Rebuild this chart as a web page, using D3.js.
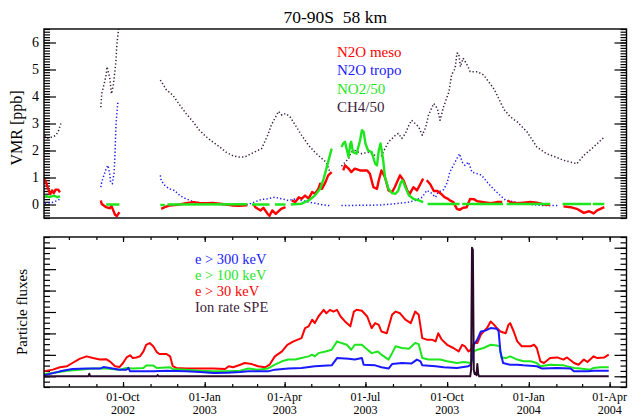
<!DOCTYPE html>
<html>
<head>
<meta charset="utf-8">
<script src="https://cdn.jsdelivr.net/npm/d3@7"></script>
<style>
    body { margin: 0; background: #fff; }
    text { font-family: 'Liberation Serif', 'Times New Roman', serif; }
</style>
</head>
<body>
<div id="chart"></div>
<script>
// ---- values ----
var title = '70-90S  58 km';
var xDomain = ['2002-07-04', '2004-04-20'];
var quarterTicks = ['2002-10-01', '2003-01-01', '2003-04-01', '2003-07-01', '2003-10-01', '2004-01-01', '2004-04-01'];
var vmrTicks = [0, 1, 2, 3, 4, 5, 6];
var fluxTicks = [0, 1, 2, 3, 4, 5, 6];
var topLegend = ['N2O meso', 'N2O tropo', 'NO2/50', 'CH4/50'];
var botLegend = ['e > 300 keV', 'e > 100 keV', 'e > 30 keV', 'Ion rate SPE'];

// top panel [ppb], null marks a data gap
var n2oMeso = [
    ['2002-07-05', 0.93], ['2002-07-07', 0.75], ['2002-07-09', 0.55], ['2002-07-11', 0.38], ['2002-07-13', 0.52], ['2002-07-15', 0.42], ['2002-07-17', 0.55], ['2002-07-20', 0.55], ['2002-07-22', 0.45], ['2002-07-23', null],
    ['2002-09-06', 0.15], ['2002-09-07', 0.02], ['2002-09-12', -0.1], ['2002-09-16', -0.14], ['2002-09-18', -0.05], ['2002-09-20', -0.22], ['2002-09-22', -0.38], ['2002-09-24', -0.43], ['2002-09-27', -0.28], ['2002-09-28', null],
    ['2002-11-13', -0.16], ['2002-11-17', -0.1], ['2002-11-22', -0.04], ['2002-12-04', 0.0], ['2002-12-11', 0.05], ['2002-12-19', 0.09], ['2002-12-26', 0.06], ['2003-01-03', 0.05], ['2003-01-10', 0.06], ['2003-01-18', 0.03], ['2003-01-25', 0.0], ['2003-02-02', -0.04], ['2003-02-08', -0.05], ['2003-02-18', -0.03], ['2003-02-20', null],
    ['2003-02-25', 0.0], ['2003-02-27', -0.1], ['2003-03-05', -0.22], ['2003-03-08', -0.12], ['2003-03-13', -0.35], ['2003-03-15', -0.42], ['2003-03-18', -0.22], ['2003-03-22', -0.35], ['2003-03-28', -0.16], ['2003-04-02', -0.1], ['2003-04-04', null],
    ['2003-04-09', 0.15], ['2003-04-13', 0.09], ['2003-04-17', 0.27], ['2003-04-20', 0.21], ['2003-04-24', 0.33], ['2003-04-28', 0.22], ['2003-05-02', 0.46], ['2003-05-05', 0.4], ['2003-05-09', 0.58], ['2003-05-11', 0.77], ['2003-05-13', 0.58], ['2003-05-17', 0.83], ['2003-05-20', 1.08], ['2003-05-24', 1.2], ['2003-05-26', null],
    ['2003-06-06', 1.26], ['2003-06-08', 1.45], ['2003-06-12', 1.33], ['2003-06-15', 1.2], ['2003-06-19', 1.33], ['2003-06-25', 1.26], ['2003-07-03', 1.26], ['2003-07-06', 1.14], ['2003-07-10', 0.64], ['2003-07-14', 0.58], ['2003-07-16', 0.89], ['2003-07-19', 1.26], ['2003-07-23', 1.01], ['2003-07-27', 0.52], ['2003-07-31', 0.46], ['2003-08-03', 0.64], ['2003-08-09', 1.08], ['2003-08-13', 0.89], ['2003-08-17', 0.52], ['2003-08-20', 0.4], ['2003-08-24', 0.64], ['2003-08-28', 0.52], ['2003-09-01', 0.77], ['2003-09-04', 0.96], ['2003-09-06', null],
    ['2003-09-08', 0.9], ['2003-09-12', 0.75], ['2003-09-16', 0.5], ['2003-09-20', 0.5], ['2003-09-24', 0.4], ['2003-09-28', 0.27], ['2003-10-02', 0.21], ['2003-10-04', 0.15], ['2003-10-08', 0.09], ['2003-10-12', -0.16], ['2003-10-15', -0.2], ['2003-10-19', -0.12], ['2003-10-23', -0.1], ['2003-10-27', 0.21], ['2003-10-31', 0.2], ['2003-11-04', 0.12], ['2003-11-11', 0.09], ['2003-11-19', 0.05], ['2003-11-26', 0.09], ['2003-12-02', 0.09], ['2003-12-05', null],
    ['2003-12-08', 0.15], ['2003-12-11', 0.09], ['2003-12-19', 0.05], ['2003-12-26', 0.07], ['2004-01-03', 0.09], ['2004-01-10', 0.07], ['2004-01-18', 0.0], ['2004-01-25', -0.02], ['2004-02-01', null],
    ['2004-02-09', -0.07], ['2004-02-17', -0.1], ['2004-02-24', -0.16], ['2004-03-03', -0.31], ['2004-03-09', -0.25], ['2004-03-14', -0.33], ['2004-03-18', -0.22], ['2004-03-26', -0.1]
];

var n2oTropo = [
    ['2002-07-05', 0.05], ['2002-07-10', 0.06], ['2002-07-15', 0.09], ['2002-07-19', 0.15], ['2002-07-22', 0.2], ['2002-07-23', null],
    ['2002-09-06', 0.64], ['2002-09-07', 0.83], ['2002-09-12', 1.33], ['2002-09-14', 1.45], ['2002-09-16', 1.14], ['2002-09-17', 0.83], ['2002-09-19', 0.77], ['2002-09-21', 1.2], ['2002-09-22', 1.94], ['2002-09-23', 2.94], ['2002-09-25', 3.74], ['2002-09-26', 3.8], ['2002-09-28', null],
    ['2002-11-12', 1.08], ['2002-11-13', 0.89], ['2002-11-17', 0.71], ['2002-11-22', 0.58], ['2002-11-28', 0.52], ['2002-12-04', 0.33], ['2002-12-11', 0.21], ['2002-12-19', 0.11], ['2002-12-26', 0.06], ['2003-01-03', 0.03], ['2003-01-18', 0.0], ['2003-02-02', -0.04], ['2003-02-10', -0.03], ['2003-02-19', 0.0], ['2003-02-26', 0.09], ['2003-03-06', 0.19], ['2003-03-13', 0.21], ['2003-03-21', 0.27], ['2003-03-29', 0.21], ['2003-04-05', 0.15], ['2003-04-13', 0.21], ['2003-04-20', 0.15], ['2003-04-28', 0.09], ['2003-05-05', 0.05], ['2003-05-13', -0.01], ['2003-05-22', -0.04], ['2003-05-26', null],
    ['2003-06-04', -0.04], ['2003-06-25', -0.03], ['2003-07-17', -0.02], ['2003-08-04', 0.03], ['2003-08-19', 0.09], ['2003-08-26', 0.15], ['2003-09-03', 0.27], ['2003-09-08', 0.52], ['2003-09-12', 0.46], ['2003-09-18', 0.27], ['2003-09-21', 0.46], ['2003-09-27', 0.55], ['2003-10-01', 0.8], ['2003-10-04', 1.2], ['2003-10-08', 1.45], ['2003-10-12', 1.7], ['2003-10-15', 1.88], ['2003-10-18', 1.57], ['2003-10-21', 1.45], ['2003-10-25', 1.57], ['2003-10-29', 1.2], ['2003-11-04', 1.14], ['2003-11-09', 1.08], ['2003-11-15', 0.83], ['2003-11-22', 0.58], ['2003-11-30', 0.33], ['2003-12-06', 0.15], ['2003-12-11', 0.12], ['2003-12-23', 0.05], ['2004-01-03', 0.0], ['2004-01-18', -0.04], ['2004-02-02', -0.04]
];

var no2 = [
    ['2002-07-05', 0.33], ['2002-07-10', 0.27], ['2002-07-15', 0.33], ['2002-07-19', 0.27], ['2002-07-22', 0.3], ['2002-07-23', null],
    ['2002-09-12', 0.0], ['2002-09-27', 0.0], ['2002-09-28', null],
    ['2002-11-12', -0.02], ['2002-11-17', -0.02], ['2002-11-18', null],
    ['2002-11-20', 0.0], ['2003-02-18', 0.01], ['2003-02-20', null],
    ['2003-02-23', 0.0], ['2003-03-15', 0.0], ['2003-03-18', null],
    ['2003-03-21', 0.0], ['2003-04-02', 0.0], ['2003-04-05', null],
    ['2003-04-08', 0.0], ['2003-04-20', 0.03], ['2003-04-28', 0.15], ['2003-05-05', 0.33], ['2003-05-11', 0.58], ['2003-05-15', 0.96], ['2003-05-18', 1.33], ['2003-05-21', 1.7], ['2003-05-24', 2.07], ['2003-05-26', null],
    ['2003-06-04', 2.13], ['2003-06-06', 2.26], ['2003-06-08', 2.32], ['2003-06-12', 1.76], ['2003-06-14', 2.26], ['2003-06-15', 2.32], ['2003-06-17', 1.94], ['2003-06-21', 1.88], ['2003-06-25', 2.38], ['2003-06-27', 2.75], ['2003-06-29', 2.69], ['2003-07-01', 2.26], ['2003-07-04', 2.0], ['2003-07-08', 1.94], ['2003-07-12', 1.51], ['2003-07-14', 1.45], ['2003-07-16', 2.0], ['2003-07-18', 2.26], ['2003-07-19', 2.07], ['2003-07-21', 1.64], ['2003-07-23', 1.01], ['2003-07-27', 0.58], ['2003-07-31', 0.42], ['2003-08-04', 0.4], ['2003-08-07', 0.52], ['2003-08-10', 0.83], ['2003-08-12', 0.89], ['2003-08-15', 0.64], ['2003-08-19', 0.33], ['2003-08-24', 0.21], ['2003-08-30', 0.15], ['2003-09-04', 0.09], ['2003-09-06', null],
    ['2003-09-09', 0.02], ['2003-10-15', 0.02], ['2003-10-17', null],
    ['2003-10-18', 0.02], ['2003-12-03', 0.02], ['2003-12-05', null],
    ['2003-12-07', 0.02], ['2004-01-25', 0.02], ['2004-02-01', null],
    ['2004-02-08', 0.02], ['2004-03-11', 0.02], ['2004-03-12', null],
    ['2004-03-13', 0.02], ['2004-03-26', 0.02]
];

var ch4 = [
    ['2002-07-05', 2.55], ['2002-07-08', 2.45], ['2002-07-13', 2.5], ['2002-07-17', 2.55], ['2002-07-20', 2.7], ['2002-07-23', 3.0], ['2002-07-24', null],
    ['2002-09-06', 3.6], ['2002-09-07', 4.1], ['2002-09-10', 4.5], ['2002-09-12', 4.8], ['2002-09-13', 5.1], ['2002-09-16', 4.7], ['2002-09-18', 4.1], ['2002-09-20', 4.4], ['2002-09-23', 5.3], ['2002-09-24', 5.9], ['2002-09-26', 6.5], ['2002-09-28', null],
    ['2002-11-12', 4.61], ['2002-11-19', 4.24], ['2002-11-26', 4.05], ['2002-12-04', 3.68], ['2002-12-11', 3.37], ['2002-12-19', 3.06], ['2002-12-26', 2.75], ['2003-01-03', 2.5], ['2003-01-10', 2.32], ['2003-01-18', 2.13], ['2003-01-25', 1.94], ['2003-02-02', 1.8], ['2003-02-08', 1.76], ['2003-02-15', 1.76], ['2003-02-26', 1.94], ['2003-03-06', 2.07], ['2003-03-13', 2.57], ['2003-03-17', 2.94], ['2003-03-21', 3.19], ['2003-03-25', 3.45], ['2003-03-29', 3.31], ['2003-04-02', 3.37], ['2003-04-07', 3.25], ['2003-04-13', 2.94], ['2003-04-20', 2.57], ['2003-04-28', 2.19], ['2003-05-05', 1.94], ['2003-05-11', 1.76], ['2003-05-15', 1.64], ['2003-05-18', 1.57], ['2003-05-22', 1.2], ['2003-05-26', null],
    ['2003-06-04', 1.42], ['2003-06-12', 1.7], ['2003-06-15', 1.94], ['2003-06-19', 2.0], ['2003-06-27', 1.88], ['2003-07-04', 1.94], ['2003-07-12', 1.82], ['2003-07-19', 1.8], ['2003-07-23', 2.07], ['2003-07-27', 2.32], ['2003-07-31', 2.44], ['2003-08-04', 2.57], ['2003-08-07', 2.63], ['2003-08-11', 2.45], ['2003-08-15', 2.63], ['2003-08-19', 2.94], ['2003-08-22', 3.12], ['2003-08-26', 3.0], ['2003-08-30', 2.87], ['2003-09-03', 2.57], ['2003-09-07', 2.87], ['2003-09-10', 3.31], ['2003-09-16', 3.74], ['2003-09-20', 3.55], ['2003-09-23', 3.12], ['2003-09-27', 3.62], ['2003-10-03', 4.17], ['2003-10-06', 4.8], ['2003-10-10', 5.04], ['2003-10-12', 5.6], ['2003-10-14', 5.6], ['2003-10-16', 5.1], ['2003-10-19', 5.42], ['2003-10-23', 5.2], ['2003-10-27', 4.92], ['2003-11-04', 4.92], ['2003-11-11', 4.8], ['2003-11-23', 4.27], ['2003-12-04', 3.52], ['2003-12-11', 3.25], ['2003-12-19', 3.06], ['2003-12-30', 2.69], ['2004-01-10', 2.13], ['2004-01-21', 1.88], ['2004-01-31', 1.76], ['2004-02-09', 1.64], ['2004-02-17', 1.57], ['2004-02-24', 1.51], ['2004-03-03', 1.82], ['2004-03-14', 2.13], ['2004-03-26', 2.5]
];

// bottom panel, particle fluxes (arbitrary units)
var e30 = [
    ['2002-07-04', 0.23], ['2002-07-14', 0.31], ['2002-07-22', 0.42], ['2002-07-30', 0.47], ['2002-08-05', 0.62], ['2002-08-13', 0.81], ['2002-08-21', 0.93], ['2002-08-28', 0.85], ['2002-09-05', 0.78], ['2002-09-12', 0.80], ['2002-09-16', 0.70], ['2002-09-22', 0.47], ['2002-09-27', 0.43], ['2002-10-01', 0.62], ['2002-10-05', 0.88], ['2002-10-09', 0.98], ['2002-10-12', 0.85], ['2002-10-16', 0.88], ['2002-10-20', 0.93], ['2002-10-24', 1.16], ['2002-10-27', 1.47], ['2002-10-31', 1.55], ['2002-11-04', 1.40], ['2002-11-08', 1.13], ['2002-11-11', 1.04], ['2002-11-19', 1.04], ['2002-11-23', 0.93], ['2002-11-26', 0.47], ['2002-11-30', 0.39], ['2002-12-11', 0.36], ['2002-12-27', 0.36], ['2003-01-11', 0.36], ['2003-01-24', 0.34], ['2003-01-28', 0.47], ['2003-02-02', 0.42], ['2003-02-10', 0.54], ['2003-02-15', 0.62], ['2003-02-23', 0.57], ['2003-03-02', 0.47], ['2003-03-10', 0.42], ['2003-03-15', 0.54], ['2003-03-21', 0.93], ['2003-03-29', 1.16], ['2003-04-04', 1.47], ['2003-04-11', 1.63], ['2003-04-20', 1.78], ['2003-04-24', 2.25], ['2003-04-28', 2.33], ['2003-05-02', 2.64], ['2003-05-05', 2.48], ['2003-05-09', 2.79], ['2003-05-15', 3.10], ['2003-05-18', 2.94], ['2003-05-22', 3.10], ['2003-05-26', 3.02], ['2003-05-30', 3.10], ['2003-06-03', 2.79], ['2003-06-08', 2.56], ['2003-06-14', 2.33], ['2003-06-18', 3.02], ['2003-06-21', 3.10], ['2003-06-27', 3.06], ['2003-07-03', 2.79], ['2003-07-08', 2.25], ['2003-07-12', 2.48], ['2003-07-16', 2.40], ['2003-07-19', 2.09], ['2003-07-25', 2.01], ['2003-07-31', 2.87], ['2003-08-04', 3.02], ['2003-08-09', 2.94], ['2003-08-15', 2.64], ['2003-08-21', 2.48], ['2003-08-26', 3.02], ['2003-08-30', 2.87], ['2003-09-03', 1.78], ['2003-09-08', 1.71], ['2003-09-14', 1.71], ['2003-09-18', 1.63], ['2003-09-21', 2.01], ['2003-09-25', 1.71], ['2003-10-01', 1.47], ['2003-10-08', 1.32], ['2003-10-14', 1.16], ['2003-10-18', 1.47], ['2003-10-21', 1.40], ['2003-10-25', 1.16], ['2003-10-28', 1.24], ['2003-10-31', 1.55], ['2003-11-04', 1.55], ['2003-11-08', 1.94], ['2003-11-11', 2.09], ['2003-11-15', 2.25], ['2003-11-19', 2.56], ['2003-11-23', 2.40], ['2003-11-26', 2.25], ['2003-11-30', 2.09], ['2003-12-06', 2.01], ['2003-12-09', 2.40], ['2003-12-11', 2.48], ['2003-12-15', 2.09], ['2003-12-19', 1.63], ['2003-12-24', 1.40], ['2004-01-03', 1.40], ['2004-01-07', 1.47], ['2004-01-10', 1.32], ['2004-01-14', 0.70], ['2004-01-18', 0.62], ['2004-01-25', 0.85], ['2004-02-02', 0.88], ['2004-02-09', 0.78], ['2004-02-13', 0.88], ['2004-02-21', 0.62], ['2004-02-26', 0.54], ['2004-03-03', 0.78], ['2004-03-07', 0.67], ['2004-03-14', 0.93], ['2004-03-18', 0.85], ['2004-03-26', 0.88], ['2004-03-31', 1.01]
];

var e100 = [
    ['2002-07-04', 0.11], ['2002-07-14', 0.15], ['2002-07-30', 0.26], ['2002-08-13', 0.31], ['2002-08-28', 0.36], ['2002-09-12', 0.36], ['2002-09-27', 0.31], ['2002-10-05', 0.39], ['2002-10-12', 0.36], ['2002-10-24', 0.39], ['2002-10-27', 0.50], ['2002-11-04', 0.50], ['2002-11-08', 0.39], ['2002-11-23', 0.42], ['2002-11-26', 0.34], ['2002-12-11', 0.31], ['2002-12-27', 0.26], ['2003-01-11', 0.23], ['2003-01-26', 0.23], ['2003-02-10', 0.26], ['2003-02-19', 0.36], ['2003-03-02', 0.31], ['2003-03-13', 0.36], ['2003-03-21', 0.54], ['2003-03-29', 0.70], ['2003-04-05', 0.78], ['2003-04-13', 0.78], ['2003-04-20', 0.85], ['2003-04-28', 0.93], ['2003-05-02', 1.01], ['2003-05-05', 0.93], ['2003-05-09', 1.08], ['2003-05-17', 1.16], ['2003-05-24', 1.24], ['2003-05-30', 1.63], ['2003-06-04', 1.55], ['2003-06-10', 1.47], ['2003-06-15', 1.24], ['2003-06-19', 1.47], ['2003-06-27', 1.47], ['2003-07-01', 1.32], ['2003-07-08', 1.08], ['2003-07-15', 1.16], ['2003-07-19', 1.01], ['2003-07-27', 0.78], ['2003-07-31', 1.08], ['2003-08-04', 1.40], ['2003-08-11', 1.32], ['2003-08-19', 1.29], ['2003-08-26', 1.55], ['2003-08-30', 1.50], ['2003-09-03', 0.85], ['2003-09-10', 0.78], ['2003-09-23', 0.78], ['2003-10-01', 0.70], ['2003-10-12', 0.62], ['2003-10-20', 0.67], ['2003-10-28', 0.62], ['2003-10-31', 1.16], ['2003-11-04', 1.24], ['2003-11-11', 1.32], ['2003-11-19', 1.47], ['2003-11-26', 1.44], ['2003-11-29', 1.40], ['2003-12-01', 0.88], ['2003-12-06', 0.85], ['2003-12-11', 0.93], ['2003-12-19', 0.78], ['2003-12-26', 0.70], ['2004-01-03', 0.70], ['2004-01-10', 0.62], ['2004-01-14', 0.47], ['2004-01-25', 0.54], ['2004-02-09', 0.51], ['2004-02-21', 0.39], ['2004-02-28', 0.36], ['2004-03-10', 0.31], ['2004-03-14', 0.39], ['2004-03-21', 0.42], ['2004-03-31', 0.42]
];

var e300 = [
    ['2002-07-04', 0.05], ['2002-07-22', 0.23], ['2002-08-05', 0.34], ['2002-08-21', 0.36], ['2002-09-05', 0.36], ['2002-09-09', 0.43], ['2002-09-16', 0.39], ['2002-09-27', 0.31], ['2002-10-05', 0.31], ['2002-10-07', 0.39], ['2002-10-09', 0.23], ['2002-10-20', 0.23], ['2002-11-04', 0.23], ['2002-11-19', 0.26], ['2002-12-11', 0.23], ['2002-12-27', 0.20], ['2003-01-11', 0.15], ['2003-01-26', 0.17], ['2003-02-10', 0.20], ['2003-02-19', 0.23], ['2003-03-13', 0.23], ['2003-03-21', 0.31], ['2003-04-05', 0.36], ['2003-04-20', 0.39], ['2003-05-05', 0.47], ['2003-05-24', 0.51], ['2003-05-30', 0.85], ['2003-06-12', 0.82], ['2003-06-19', 0.78], ['2003-06-27', 0.85], ['2003-06-29', 0.54], ['2003-07-12', 0.51], ['2003-07-19', 0.42], ['2003-07-27', 0.36], ['2003-07-31', 0.57], ['2003-08-11', 0.62], ['2003-08-22', 0.60], ['2003-08-28', 0.78], ['2003-09-01', 0.70], ['2003-09-03', 0.51], ['2003-09-18', 0.47], ['2003-09-27', 0.42], ['2003-10-12', 0.39], ['2003-10-25', 0.47], ['2003-10-28', 0.54], ['2003-10-31', 1.47], ['2003-11-04', 1.71], ['2003-11-08', 2.09], ['2003-11-13', 2.13], ['2003-11-19', 2.25], ['2003-11-26', 2.22], ['2003-11-28', 2.09], ['2003-11-30', 1.16], ['2003-12-03', 0.62], ['2003-12-11', 0.54], ['2003-12-19', 0.54], ['2003-12-26', 0.51], ['2004-01-10', 0.47], ['2004-01-16', 0.36], ['2004-02-02', 0.39], ['2004-02-17', 0.36], ['2004-02-21', 0.23], ['2004-03-07', 0.23], ['2004-03-14', 0.26], ['2004-03-31', 0.26]
];

var ionRate = [
    ['2002-07-04', 0], ['2002-08-23', 0], ['2002-08-24', 0.12], ['2002-08-25', 0], ['2002-11-08', 0], ['2002-11-09', 0.06], ['2002-11-10', 0],
    ['2003-10-27', 0], ['2003-10-28', 0.3], ['2003-10-29', 6.0], ['2003-10-30', 5.9], ['2003-10-31', 0.3], ['2003-11-01', 0.1], ['2003-11-02', 0.15], ['2003-11-03', 0.05], ['2003-11-04', 0.57], ['2003-11-05', 0.1], ['2003-11-06', 0], ['2004-03-31', 0]
];

// ---- drawing ----
var parseDate = d3.timeParse('%Y-%m-%d');
var fmtDay = d3.timeFormat('%d-%b');
var fmtYear = d3.timeFormat('%Y');

var red = '#ff0000', blue = '#1a1aff', green = '#1ee61e', plum = '#3d1e3d', dark = '#2a0a2a';

var margin = { left: 44, right: 5.5 },
    width = 632 - margin.left - margin.right,
    topY = 29, topH = 189,
    botY = 237, botH = 150;

var svg = d3.select('#chart').append('svg')
    .attr('width', 632)
    .attr('height', 417);

var defs = svg.append('defs');
defs.append('clipPath').attr('id', 'clipTop')
    .append('rect').attr('width', width).attr('height', topH);
defs.append('clipPath').attr('id', 'clipBot')
    .append('rect').attr('width', width).attr('height', botH);

var x = d3.scaleTime()
    .domain(xDomain.map(parseDate))
    .range([0, width]);
var yTop = d3.scaleLinear().domain([-0.5, 6.5]).range([topH, 0]);
var yBot = d3.scaleLinear().domain([-0.5, 6.5]).range([botH, 0]);

function makeLine(y) {
    return d3.line()
        .defined(function (d) { return d[1] !== null; })
        .x(function (d) { return x(parseDate(d[0])); })
        .y(function (d) { return y(d[1]); });
}

function drawSeries(g, data, line, color, w, dash) {
    g.append('path')
        .datum(data)
        .attr('fill', 'none')
        .attr('stroke', color)
        .attr('stroke-width', w)
        .attr('stroke-linejoin', 'round')
        .attr('stroke-dasharray', dash || null)
        .attr('d', line);
}

// left and right axes with major and minor ticks pointing inwards
function yAxes(g, y, major, perUnit, labels) {
    var minor = d3.range(Math.ceil(y.domain()[0] * perUnit), Math.floor(y.domain()[1] * perUnit) + 1)
        .map(function (i) { return i / perUnit; });
    var left = d3.axisLeft(y).tickValues(major).tickSize(-12).tickPadding(5).tickFormat(d3.format('d'));
    if (!labels) left.tickFormat('');
    g.append('g').call(d3.axisLeft(y).tickValues(minor).tickSize(-6).tickFormat(''));
    g.append('g').attr('class', 'ylab').call(left);
    g.append('g').attr('transform', 'translate(' + width + ',0)')
        .call(d3.axisRight(y).tickValues(minor).tickSize(-6).tickFormat(''));
    g.append('g').attr('transform', 'translate(' + width + ',0)')
        .call(d3.axisRight(y).tickValues(major).tickSize(-12).tickFormat(''));
}

svg.append('text')
    .attr('x', margin.left + width / 2)
    .attr('y', 22.5)
    .attr('text-anchor', 'middle')
    .style('font-size', '17.5px')
    .style('white-space', 'pre')
    .text(title);

// top panel
var gTop = svg.append('g').attr('transform', 'translate(' + margin.left + ',' + topY + ')');
yAxes(gTop, yTop, vmrTicks, 10, true);

var topLines = gTop.append('g').attr('clip-path', 'url(#clipTop)');
var lineTop = makeLine(yTop);
drawSeries(topLines, ch4, lineTop, plum, 1.5, '1.3,2.2');
drawSeries(topLines, n2oTropo, lineTop, blue, 1.5, '1.3,2.2');
drawSeries(topLines, n2oMeso, lineTop, red, 2.4);
drawSeries(topLines, no2, lineTop, green, 2.4);

gTop.append('rect')
    .attr('width', width).attr('height', topH)
    .attr('fill', 'none').attr('stroke', '#000').attr('stroke-width', 1.4);

gTop.selectAll('.leg')
    .data(topLegend)
    .enter().append('text')
    .attr('x', 293)
    .attr('y', function (d, i) { return 27.5 + i * 18.5; })
    .attr('fill', function (d, i) { return [red, blue, green, plum][i]; })
    .style('font-size', '15px')
    .text(function (d) { return d; });

svg.append('text')
    .attr('transform', 'translate(22,128) rotate(-90)')
    .attr('text-anchor', 'middle')
    .style('font-size', '16px')
    .text('VMR [ppb]');

// bottom panel
var gBot = svg.append('g').attr('transform', 'translate(' + margin.left + ',' + botY + ')');
yAxes(gBot, yBot, fluxTicks, 4, false);

var months = d3.timeMonth.range(x.domain()[0], x.domain()[1]);
var quarters = quarterTicks.map(parseDate);
gBot.append('g').attr('transform', 'translate(0,' + botH + ')')
    .call(d3.axisBottom(x).tickValues(months).tickSize(-3).tickFormat(''));
gBot.append('g').attr('transform', 'translate(0,' + botH + ')')
    .call(d3.axisBottom(x).tickValues(quarters).tickSize(-5).tickFormat(''));
gBot.append('g')
    .call(d3.axisTop(x).tickValues(months).tickSize(-3).tickFormat(''));
gBot.append('g')
    .call(d3.axisTop(x).tickValues(quarters).tickSize(-5).tickFormat(''));

// two-line date labels
gBot.selectAll('.xday')
    .data(quarters)
    .enter().append('text')
    .attr('x', function (d) { return x(d); })
    .attr('y', botH + 14)
    .attr('text-anchor', 'middle')
    .style('font-size', '12px')
    .text(function (d) { return fmtDay(d); });
gBot.selectAll('.xyear')
    .data(quarters)
    .enter().append('text')
    .attr('x', function (d) { return x(d); })
    .attr('y', botH + 27.3)
    .attr('text-anchor', 'middle')
    .style('font-size', '12px')
    .text(function (d) { return fmtYear(d); });

var botLines = gBot.append('g').attr('clip-path', 'url(#clipBot)');
var lineBot = makeLine(yBot);
drawSeries(botLines, e30, lineBot, red, 2);
drawSeries(botLines, e100, lineBot, green, 2);
drawSeries(botLines, e300, lineBot, blue, 2);
drawSeries(botLines, ionRate, lineBot, dark, 2);

gBot.append('rect')
    .attr('width', width).attr('height', botH)
    .attr('fill', 'none').attr('stroke', '#000').attr('stroke-width', 1.4);

gBot.selectAll('.leg')
    .data(botLegend)
    .enter().append('text')
    .attr('x', 151)
    .attr('y', function (d, i) { return 26.5 + i * 16; })
    .attr('fill', function (d, i) { return [blue, green, red, plum][i]; })
    .style('font-size', '14.5px')
    .text(function (d) { return d; });

svg.append('text')
    .attr('transform', 'translate(26.5,312) rotate(-90)')
    .attr('text-anchor', 'middle')
    .style('font-size', '15px')
    .text('Particle fluxes');

// axis styling
svg.selectAll('.domain').remove();
svg.selectAll('.tick line').attr('stroke', '#000').attr('stroke-width', 1.2);
svg.selectAll('.ylab .tick text').style('font-size', '14px').attr('fill', '#000');
</script>
</body>
</html>
